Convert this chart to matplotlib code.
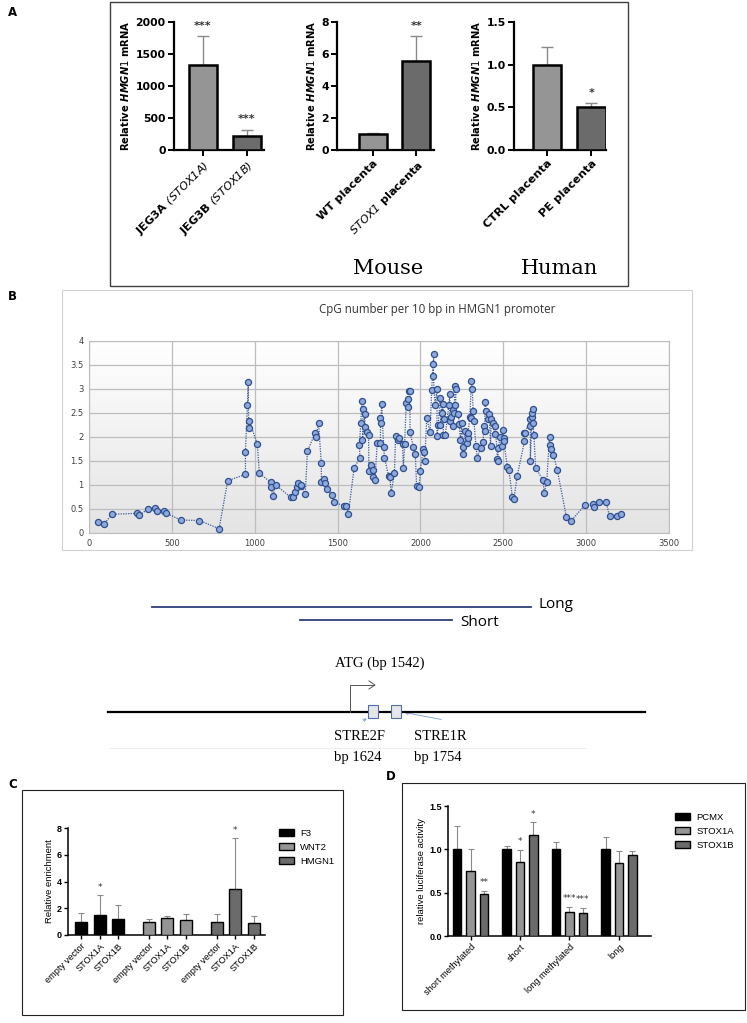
import numpy as np
import matplotlib
matplotlib.use("Agg")
import matplotlib.pyplot as plt
from matplotlib.patches import Rectangle, FancyArrowPatch, Patch
from matplotlib.colors import LinearSegmentedColormap

plt.rcParams['font.family'] = ['DejaVu Sans']
plt.rcParams['mathtext.fontset'] = 'custom'
plt.rcParams['mathtext.rm'] = 'DejaVu Sans'
plt.rcParams['mathtext.it'] = 'DejaVu Sans:italic:bold'
plt.rcParams['mathtext.bf'] = 'DejaVu Sans:bold'
plt.rcParams['mathtext.sf'] = 'DejaVu Sans:italic'

W, H = 747, 1023

# ---- panel A: relative HMGN1 mRNA
a1_labels = [r"JEG3A $\mathsf{(STOX1A)}$", r"JEG3B $\mathsf{(STOX1B)}$"]
a1_mean = [1330, 225]
a1_err = [450, 95]
a1_sig = ["***", "***"]
a2_labels = ["WT placenta", r"$\mathsf{STOX1}$ placenta"]
a2_mean = [1.0, 5.55]
a2_err = [0.07, 1.55]
a2_sig = ["", "**"]
a3_labels = ["CTRL placenta", "PE placenta"]
a3_mean = [1.0, 0.5]
a3_err = [0.21, 0.05]
a3_sig = ["", "*"]

# ---- panel B: CpG number per 10 bp
cpg_bp = [57, 89, 139, 292, 302, 357, 399, 411, 453, 466,
          555, 666, 785, 837, 944, 944, 956, 961, 963, 968,
          1016, 1028, 1097, 1097, 1110, 1127, 1219, 1229, 1241, 1253,
          1261, 1278, 1278, 1305, 1318, 1365, 1370, 1385, 1402, 1402,
          1417, 1422, 1434, 1469, 1476, 1538, 1553, 1565, 1600, 1635,
          1632, 1640, 1647, 1655, 1650, 1665, 1665, 1677, 1687, 1689,
          1702, 1712, 1712, 1726, 1739, 1759, 1759, 1761, 1766, 1778,
          1783, 1808, 1816, 1823, 1843, 1850, 1862, 1872, 1892, 1897,
          1905, 1914, 1922, 1922, 1929, 1937, 1937, 1957, 1969, 1977,
          1992, 1999, 2016, 2019, 2026, 2038, 2058, 2068, 2076, 2081,
          2078, 2088, 2100, 2100, 2108, 2118, 2128, 2118, 2135, 2140,
          2137, 2150, 2172, 2177, 2177, 2187, 2194, 2199, 2209, 2216,
          2211, 2204, 2229, 2234, 2241, 2249, 2254, 2259, 2269, 2281,
          2286, 2288, 2298, 2308, 2313, 2318, 2308, 2323, 2335, 2343,
          2363, 2378, 2383, 2388, 2390, 2398, 2405, 2415, 2423, 2428,
          2437, 2447, 2452, 2465, 2470, 2467, 2482, 2490, 2497, 2505,
          2502, 2525, 2534, 2554, 2564, 2584, 2628, 2623, 2633, 2661,
          2663, 2663, 2673, 2675, 2678, 2680, 2685, 2695, 2740, 2747,
          2762, 2779, 2782, 2787, 2802, 2826, 2881, 2906, 2992, 3042,
          3047, 3079, 3121, 3141, 3186, 3208]
cpg_val = [0.23, 0.18, 0.39, 0.41, 0.37, 0.50, 0.53, 0.46, 0.45, 0.41,
           0.27, 0.26, 0.09, 1.09, 1.22, 1.69, 2.67, 3.15, 2.19, 2.33,
           1.85, 1.24, 1.06, 0.96, 0.78, 1.00, 0.74, 0.74, 0.86, 0.96,
           1.04, 0.97, 1.00, 0.81, 1.70, 2.09, 2.00, 2.29, 1.45, 1.06,
           1.13, 1.04, 0.92, 0.80, 0.64, 0.57, 0.57, 0.40, 1.36, 1.56,
           1.83, 2.29, 2.74, 2.59, 1.93, 2.48, 2.20, 2.10, 2.04, 1.30,
           1.41, 1.32, 1.16, 1.11, 1.87, 1.87, 2.40, 2.29, 2.68, 1.79,
           1.57, 1.19, 1.17, 0.83, 1.24, 2.03, 1.93, 1.97, 1.86, 1.36,
           1.86, 2.70, 2.63, 2.80, 2.95, 2.95, 2.10, 1.80, 1.64, 0.97,
           0.95, 1.30, 1.74, 1.69, 1.50, 2.40, 2.10, 2.98, 3.53, 3.73,
           3.27, 2.67, 3.00, 2.03, 2.24, 2.82, 2.49, 2.24, 2.68, 2.37,
           2.05, 2.05, 2.67, 2.90, 2.34, 2.41, 2.57, 2.22, 3.06, 3.00,
           2.67, 2.50, 2.48, 2.27, 1.94, 2.30, 1.65, 1.79, 2.13, 1.87,
           1.97, 2.09, 2.41, 3.17, 3.00, 2.54, 2.40, 2.33, 1.82, 1.57,
           1.77, 1.89, 2.22, 2.13, 2.72, 2.55, 2.37, 2.48, 1.82, 2.37,
           2.29, 2.06, 2.22, 1.55, 1.51, 1.77, 1.99, 1.82, 2.14, 1.97,
           1.92, 1.38, 1.32, 0.76, 0.71, 1.19, 1.91, 2.09, 2.09, 2.37,
           2.22, 1.49, 2.42, 2.50, 2.59, 2.29, 2.04, 1.36, 1.10, 0.84,
           1.06, 2.00, 1.83, 1.75, 1.63, 1.31, 0.33, 0.24, 0.58, 0.61,
           0.54, 0.64, 0.64, 0.35, 0.36, 0.39]

# ---- panel C: ChIP relative enrichment
c_genes = ["F3", "WNT2", "HMGN1"]
c_conditions = ["empty vector", "STOX1A", "STOX1B"]
c_mean = [[1.0, 1.5, 1.2], [0.95, 1.3, 1.1], [1.0, 3.45, 0.9]]
c_err = [[0.65, 1.5, 1.05], [0.25, 0.12, 0.47], [0.57, 3.77, 0.55]]
c_sig = [["", "*", ""], ["", "", ""], ["", "*", ""]]

# ---- panel D: luciferase
d_constructs = ["short methylated", "short", "long methylated", "long"]
d_vectors = ["PCMX", "STOX1A", "STOX1B"]
d_mean = [[1.0, 0.75, 0.48], [1.0, 0.85, 1.16], [1.0, 0.28, 0.27], [1.0, 0.84, 0.93]]
d_err = [[0.27, 0.25, 0.04], [0.04, 0.14, 0.15], [0.09, 0.06, 0.05], [0.14, 0.14, 0.05]]
d_sig = [["", "", "**"], ["", "*", "*"], ["", "***", "***"], ["", "", ""]]

# ---- promoter diagram text
construct_names = ["Long", "Short"]
atg_label = "ATG (bp 1542)"
stre_labels = [("STRE2F", "bp 1624"), ("STRE1R", "bp 1754")]

LIGHT, DARK = "#959595", "#6b6b6b"

fig = plt.figure(figsize=(W / 100, H / 100), dpi=100)


def px_ax(x0, y0, x1, y1):
    return fig.add_axes([x0 / W, 1 - y1 / H, (x1 - x0) / W, (y1 - y0) / H])


bg = fig.add_axes([0, 0, 1, 1])
bg.set_xlim(0, W)
bg.set_ylim(H, 0)
bg.axis("off")

# panel frames and letters
bg.add_patch(Rectangle((110, 2), 518, 284, fill=False, ec="#404040", lw=1.0))
bg.add_patch(Rectangle((62, 290), 630, 260, fill=False, ec="#d0d0d0", lw=0.8))
bg.add_patch(Rectangle((22, 790), 321, 225, fill=False, ec="#222222", lw=0.8))
bg.add_patch(Rectangle((402, 783), 343, 227, fill=False, ec="#222222", lw=0.8))
for letter, (lx, ly) in zip("ABCD", [(8, 12), (8, 297), (8, 784), (386, 777)]):
    bg.text(lx, ly, letter, fontsize=8.5, fontweight="bold", ha="left", va="center")


# ---------------- panel A ----------------
def prism_pair(ax, labels, mean, err, sig, ymax, yticks, fmt, xlim):
    x = np.arange(len(mean))
    ax.bar(x, mean, width=0.64, color=[LIGHT, DARK], edgecolor="black", linewidth=1.8, zorder=3)
    ax.errorbar(x, mean, yerr=[np.zeros(len(err)), err], fmt="none", ecolor="#8a8a8a",
                elinewidth=1.0, capsize=4, capthick=1.0, zorder=2)
    for xi, m, e, s in zip(x, mean, err, sig):
        if s:
            ax.text(xi, m + e + ymax * 0.04, s, ha="center", va="bottom", fontsize=8,
                    fontweight="bold", color="#333333", clip_on=False)
    ax.set_xlim(*xlim)
    ax.set_ylim(0, ymax)
    ax.set_yticks(yticks)
    ax.set_yticklabels([fmt.format(t) for t in yticks], fontsize=7.8, fontweight="bold")
    ax.set_xticks(x)
    ax.set_xticklabels(labels, rotation=45, ha="right", rotation_mode="anchor",
                       fontsize=8.2, fontweight="bold")
    ax.set_ylabel(r"Relative $\mathit{HMGN1}$ mRNA", fontsize=7.2, fontweight="bold", labelpad=3)
    for sp in ["top", "right"]:
        ax.spines[sp].set_visible(False)
    for sp in ["left", "bottom"]:
        ax.spines[sp].set_linewidth(1.6)
    ax.tick_params(width=1.4, length=4, pad=2)
    ax.patch.set_alpha(0)


ax1 = px_ax(174, 22, 264, 150)
prism_pair(ax1, a1_labels, a1_mean, a1_err, a1_sig, 2000, [0, 500, 1000, 1500, 2000], "{:d}",
           (-0.66, 1.39))
ax2 = px_ax(337, 22, 434, 150)
prism_pair(ax2, a2_labels, a2_mean, a2_err, a2_sig, 8, [0, 2, 4, 6, 8], "{:d}", (-0.81, 1.4))
ax3 = px_ax(514, 22, 606, 150)
prism_pair(ax3, a3_labels, a3_mean, a3_err, a3_sig, 1.5, [0, 0.5, 1.0, 1.5], "{:.1f}", (-0.74, 1.33))
bg.text(388, 268, "Mouse", fontsize=15, family="DejaVu Serif", ha="center", va="center")
bg.text(560, 268, "Human", fontsize=15, family="DejaVu Serif", ha="center", va="center")

# ---------------- panel B ----------------
axb = px_ax(89, 341, 669, 533)
grad = LinearSegmentedColormap.from_list("g", ["#ffffff", "#e4e4e4"])
axb.imshow(np.linspace(0, 1, 100).reshape(-1, 1), cmap=grad, extent=[0, 1, 0, 1],
           transform=axb.transAxes, aspect="auto", zorder=0, origin="upper")
axb.plot(cpg_bp, cpg_val, ls=(0, (1, 1)), lw=0.9, color="#3b5b9a", marker="o", markersize=4.4,
         markerfacecolor="#8ea9db", markeredgecolor="#2f4f8f", markeredgewidth=0.9, zorder=3)
axb.set_xlim(0, 3500)
axb.set_ylim(0, 4)
axb.set_xticks(np.arange(0, 3501, 500))
axb.set_yticks(np.arange(0, 4.01, 0.5))
axb.set_yticklabels(["0", "0.5", "1", "1.5", "2", "2.5", "3", "3.5", "4"])
axb.set_axisbelow(True)
axb.grid(True, color="#bdbdbd", lw=0.9)
for sp in axb.spines.values():
    sp.set_color("#bdbdbd")
axb.tick_params(length=0, labelsize=6, colors="#404040", pad=4)
axb.set_title("CpG number per 10 bp in HMGN1 promoter", fontsize=8.3, family="Open Sans",
              color="#333333", x=0.6, pad=20)

# ---------------- promoter diagram ----------------
bg.plot([152, 531], [607, 607], color="#2e3f7a", lw=1.3)
bg.plot([300, 452], [620, 620], color="#2e3f7a", lw=1.3)
bg.text(538, 604, construct_names[0], fontsize=11, family="Open Sans", va="center")
bg.text(460, 622, construct_names[1], fontsize=11, family="Open Sans", va="center")
bg.plot([108, 645], [712, 712], color="black", lw=1.6)
bg.plot([110, 585], [748, 748], color="#ececec", lw=0.7)
bg.plot([350, 350, 374], [712, 685, 685], color="#555555", lw=0.7)
bg.plot([369, 375, 369], [681, 685, 689], color="#555555", lw=0.7)
bg.text(335, 663, atg_label, fontsize=10.5, family="Liberation Serif", va="center")
for bx in [368, 391]:
    bg.add_patch(Rectangle((bx, 705), 10, 13, fc="#e6e6e6", ec="#4f6fa8", lw=0.8, zorder=3))
bg.add_patch(FancyArrowPatch((361, 722), (369, 717), arrowstyle="->", mutation_scale=5,
                             color="#7b9bd5", lw=0.6))
bg.add_patch(FancyArrowPatch((444, 720), (402, 712), arrowstyle="->", mutation_scale=5,
                             color="#7b9bd5", lw=0.6))
for (name, pos), tx in zip(stre_labels, [334, 414]):
    bg.text(tx, 737, name, fontsize=10.5, family="Liberation Serif", va="center")
    bg.text(tx, 757, pos, fontsize=10.5, family="Liberation Serif", va="center")


# ---------------- panels C and D ----------------
def grouped(ax, per_group, cond_labels, mean, err, sig, step, width, ymax, yticks, fmt,
            ylabel, leg_names, leg_xy, group_names):
    colors = ["black", LIGHT, DARK]
    xt, xl = [], []
    for g in range(len(mean)):
        for i in range(len(mean[g])):
            x = g * step + i
            col = colors[g] if per_group else colors[i]
            ax.bar(x, mean[g][i], width=width, color=col, edgecolor="black", linewidth=1.0,
                   zorder=3)
            ax.errorbar(x, mean[g][i], yerr=[[0], [err[g][i]]], fmt="none", ecolor="#8a8a8a",
                        elinewidth=0.8, capsize=2.5, capthick=0.8, zorder=2)
            if sig[g][i]:
                ax.text(x, mean[g][i] + err[g][i] + ymax * 0.03, sig[g][i], ha="center",
                        va="bottom", fontsize=6.5, color="#333333")
            if per_group:
                xt.append(x)
                xl.append(cond_labels[i])
        if not per_group:
            xt.append(g * step + 1)
            xl.append(group_names[g])
    handles = [Patch(fc=c, ec="black", lw=1.0) for c in colors]
    ax.legend(handles, leg_names, loc="upper left", bbox_to_anchor=(leg_xy[0] / W, 1 - leg_xy[1] / H),
              bbox_transform=fig.transFigure, frameon=False, handlelength=1.6,
              handleheight=0.75, labelspacing=0.55, borderpad=0, handletextpad=0.7,
              prop={"family": "Liberation Sans", "size": 6.8})
    ax.set_ylim(0, ymax)
    ax.set_yticks(yticks)
    ax.set_yticklabels([fmt.format(t) for t in yticks], fontsize=6.5, fontweight="bold",
                       family="Liberation Sans")
    ax.set_xticks(xt)
    ax.set_xticklabels(xl, rotation=45, ha="right", rotation_mode="anchor", fontsize=6.6,
                       family="Liberation Sans")
    ax.set_ylabel(ylabel, fontsize=6.8, family="Liberation Sans", labelpad=2)
    for sp in ["top", "right"]:
        ax.spines[sp].set_visible(False)
    for sp in ["left", "bottom"]:
        ax.spines[sp].set_linewidth(1.1)
    ax.tick_params(width=1.0, length=3, pad=1.5)
    ax.patch.set_alpha(0)


axc = px_ax(68, 828, 265, 935)
grouped(axc, True, c_conditions, c_mean, c_err, c_sig, 3.65, 0.65, 8, [0, 2, 4, 6, 8], "{:d}",
        "Relative enrichment", c_genes, (274, 824), None)
axc.set_xlim(-0.7, 9.9)

axd = px_ax(448, 806, 651, 936)
grouped(axd, False, None, d_mean, d_err, d_sig, 3.7, 0.63, 1.5, [0, 0.5, 1.0, 1.5], "{:.1f}",
        "relative luciferase activity", d_vectors, (670, 808), d_constructs)
axd.set_xlim(-0.69, 14.5)

fig.savefig("out.png", dpi=100)
